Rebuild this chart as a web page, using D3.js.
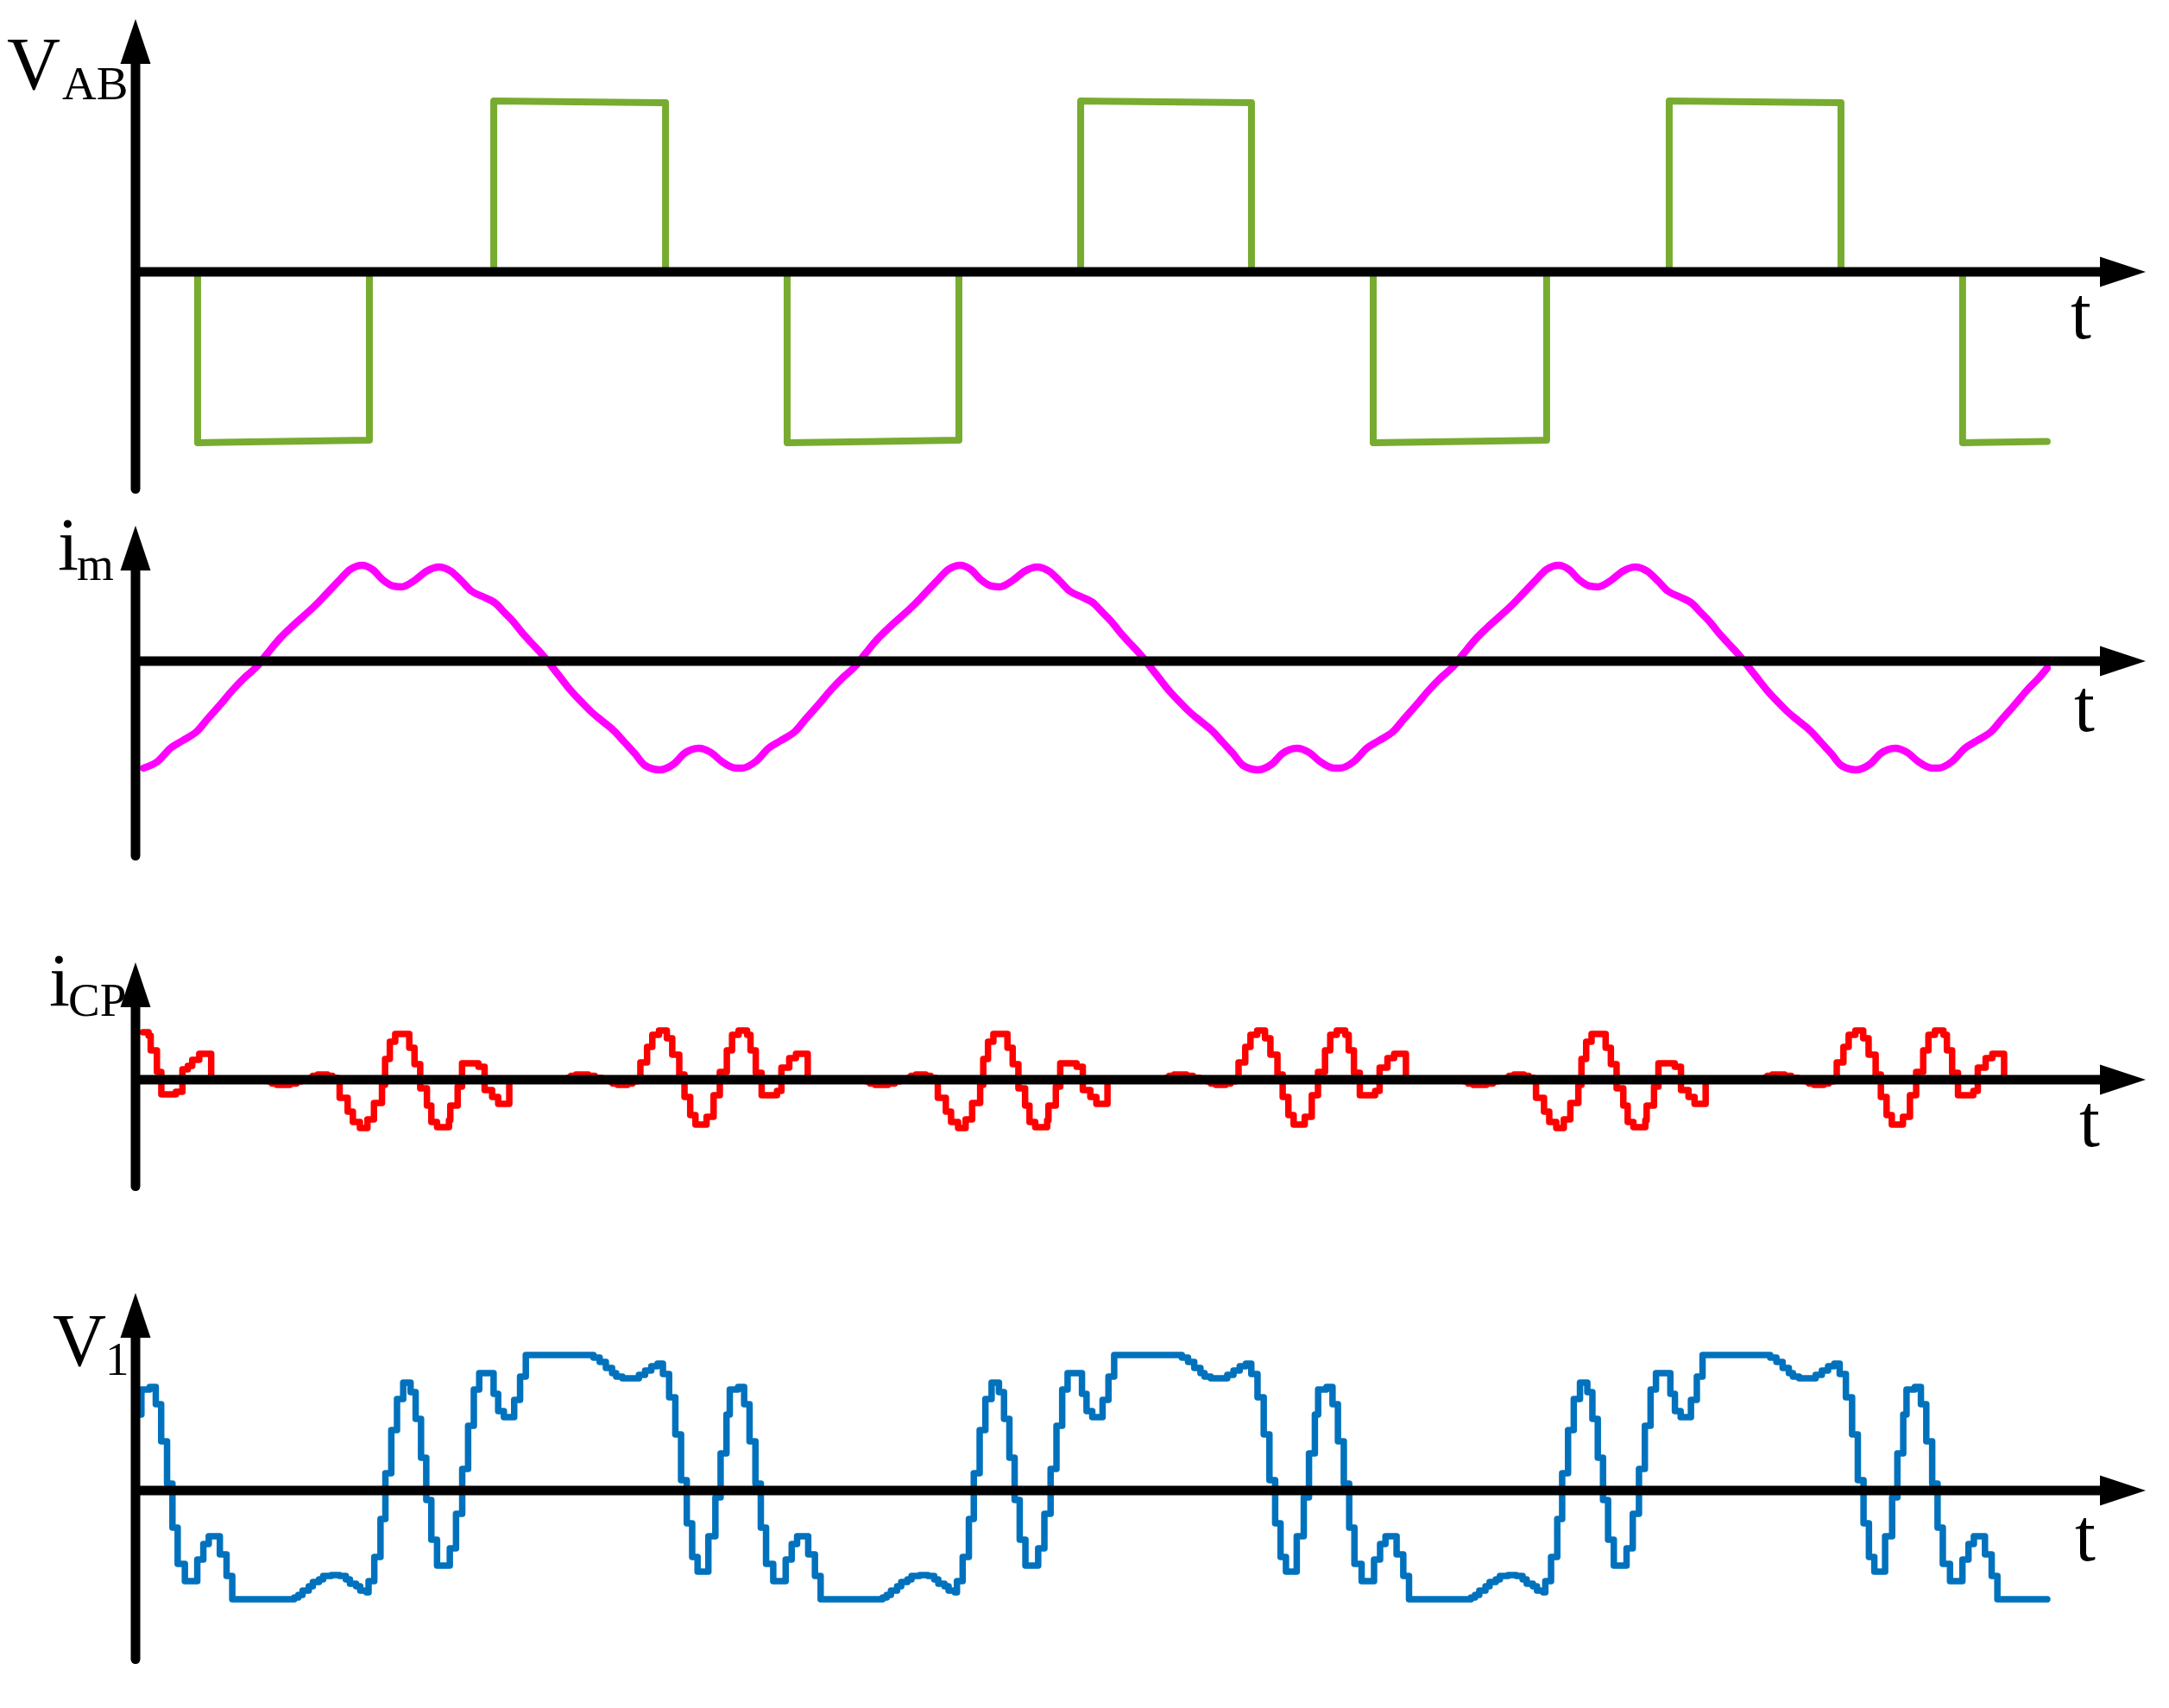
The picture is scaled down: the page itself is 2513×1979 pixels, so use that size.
<!DOCTYPE html>
<html><head><meta charset="utf-8">
<script src="https://cdn.jsdelivr.net/npm/d3@7"></script>
<style>html,body{margin:0;padding:0;background:#fff;} svg{display:block;}</style>
</head><body>
<svg id="chart" width="2513" height="1979"></svg>
<script>
// ---------- data (t in degrees of the V_AB period, values in arbitrary units) ----------
const vabData = [[0,0],[38.0,0],[38.0,-1.98],[143.1,-1.95],[143.1,0],[219.2,0],[219.2,1.98],[324.3,1.96],[324.3,0],
 [398.7,0],[398.7,-1.98],[503.8,-1.95],[503.8,0],[578.3,0],[578.3,1.98],[682.8,1.96],[682.8,0],
 [757.3,0],[757.3,-1.98],[863.4,-1.95],[863.4,0],[938.4,0],[938.4,1.98],[1043.5,1.96],[1043.5,0],
 [1117.9,0],[1117.9,-1.98],[1169.7,-1.965]];

const imData = [
 [4.9,-1.24],[13.7,-1.16],[21.3,-1.01],[28.9,-0.92],[37.8,-0.81],[44.1,-0.67],[51.6,-0.51],[59.2,-0.34],[66.8,-0.19],[74.4,-0.06],[80.7,0.09],[88.2,0.26],[94.6,0.38],[102.2,0.51],[109.7,0.64],[117.3,0.79],[124.9,0.94],[131.2,1.06],[138.8,1.11],[145.1,1.06],[151.4,0.94],[157.7,0.87],[162.8,0.86],[170.4,0.93],[177.9,1.04],[185.5,1.09],[193.1,1.04],[199.4,0.93],[205.7,0.81],[213.3,0.74],[219.6,0.68],[225.9,0.56],[231.0,0.46],[236.1,0.34],[242.3,0.21],[248.7,0.08],[255.0,-0.07],[260.0,-0.19],[266.3,-0.34],[272.7,-0.47],[279.0,-0.59],[285.3,-0.69],[292.9,-0.81],[299.2,-0.94],[305.5,-1.07],[311.8,-1.21],[320.6,-1.26],[329.5,-1.19],[335.8,-1.07],[344.6,-1.01],[352.2,-1.06],[358.5,-1.16],[367.4,-1.24],
 [370.9,-1.24],[379.7,-1.16],[387.3,-1.01],[394.9,-0.92],[403.8,-0.81],[410.1,-0.67],[417.6,-0.51],[425.2,-0.34],[432.8,-0.19],[440.4,-0.06],[446.7,0.09],[454.2,0.26],[460.6,0.38],[468.2,0.51],[475.7,0.64],[483.3,0.79],[490.9,0.94],[497.2,1.06],[504.8,1.11],[511.1,1.06],[517.4,0.94],[523.7,0.87],[528.8,0.86],[536.4,0.93],[543.9,1.04],[551.5,1.09],[559.1,1.04],[565.4,0.93],[571.7,0.81],[579.3,0.74],[585.6,0.68],[591.9,0.56],[597.0,0.46],[602.1,0.34],[608.3,0.21],[614.7,0.08],[621.0,-0.07],[626.0,-0.19],[632.3,-0.34],[638.7,-0.47],[645.0,-0.59],[651.3,-0.69],[658.9,-0.81],[665.2,-0.94],[671.5,-1.07],[677.8,-1.21],[686.6,-1.26],[695.5,-1.19],[701.8,-1.07],[710.6,-1.01],[718.2,-1.06],[724.5,-1.16],[733.4,-1.24],
 [736.9,-1.24],[745.7,-1.16],[753.3,-1.01],[760.9,-0.92],[769.8,-0.81],[776.1,-0.67],[783.6,-0.51],[791.2,-0.34],[798.8,-0.19],[806.4,-0.06],[812.7,0.09],[820.2,0.26],[826.6,0.38],[834.2,0.51],[841.7,0.64],[849.3,0.79],[856.9,0.94],[863.2,1.06],[870.8,1.11],[877.1,1.06],[883.4,0.94],[889.7,0.87],[894.8,0.86],[902.4,0.93],[909.9,1.04],[917.5,1.09],[925.1,1.04],[931.4,0.93],[937.7,0.81],[945.3,0.74],[951.6,0.68],[957.9,0.56],[963.0,0.46],[968.1,0.34],[974.3,0.21],[980.7,0.08],[987.0,-0.07],[992.0,-0.19],[998.3,-0.34],[1004.7,-0.47],[1011.0,-0.59],[1017.3,-0.69],[1024.9,-0.81],[1031.2,-0.94],[1037.5,-1.07],[1043.8,-1.21],[1052.6,-1.26],[1061.5,-1.19],[1067.8,-1.07],[1076.6,-1.01],[1084.2,-1.06],[1090.5,-1.16],[1099.4,-1.24],
 [1102.9,-1.24],[1111.7,-1.16],[1119.3,-1.01],[1126.9,-0.92],[1135.8,-0.81],[1142.1,-0.67],[1149.6,-0.51],[1157.2,-0.34],[1164.8,-0.19],[1169.7,-0.08]];

const icpData = [
 [4.5,0.55],[8.0,0.51],[9.3,0.34],[13.1,0.09],[15.8,-0.17],[24.7,-0.14],[28.7,0.12],[32.0,0.16],[34.7,0.23],[39.0,0.30],[46.3,0],
 [81.3,-0.02],[83.5,-0.045],[86.5,-0.06],[94.5,-0.045],[98.5,-0.02],[101.5,0],[106.9,0.02],[108.5,0.045],[111.5,0.06],[117.5,0.045],[120.5,0.02],[123.6,0],
 [124.9,-0.21],[129.8,-0.37],[133.0,-0.49],[137.3,-0.56],[141.9,-0.46],[145.9,-0.27],[150.8,-0.06],[152.7,0.24],[155.6,0.44],[158.9,0.53],[167.5,0.37],[170.7,0.18],[174.2,-0.10],[178.3,-0.30],[181.0,-0.49],[184.5,-0.55],[191.8,-0.47],[192.6,-0.30],[197.1,-0.08],[199.8,0.19],[209.8,0.15],[213.6,-0.12],[218.2,-0.20],[221.9,-0.28],[228.7,0],
 [264.5,0.02],[266.5,0.045],[269.5,0.06],[277.0,0.045],[281.0,0.02],[285.3,0],[290.1,-0.02],[292.0,-0.045],[295.0,-0.06],[301.0,-0.045],[304.0,-0.02],[306.8,0],
 [308.9,0.20],[313.0,0.38],[316.2,0.52],[320.3,0.57],[325.1,0.48],[328.4,0.29],[332.7,0.06],[335.9,-0.20],[339.4,-0.41],[342.6,-0.52],[349.4,-0.43],[353.7,-0.18],[357.5,0.09],[361.8,0.34],[365.0,0.52],[369.0,0.57],[374.2,0.52],[376.3,0.34],[379.5,0.08],[383.1,-0.18],[392.5,-0.13],[395.2,0.14],[400.0,0.25],[404.1,0.30],[411.3,0],
 [447.3,-0.02],[449.5,-0.045],[452.5,-0.06],[460.5,-0.045],[464.5,-0.02],[467.5,0],[472.9,0.02],[474.5,0.045],[477.5,0.06],[483.5,0.045],[486.5,0.02],[489.6,0],
 [490.9,-0.21],[495.8,-0.37],[499.0,-0.49],[503.3,-0.56],[507.9,-0.46],[511.9,-0.27],[516.8,-0.06],[518.7,0.24],[521.6,0.44],[524.9,0.53],[533.5,0.37],[536.7,0.18],[540.2,-0.10],[544.3,-0.30],[547.0,-0.49],[550.5,-0.55],[557.8,-0.47],[558.6,-0.30],[563.1,-0.08],[565.8,0.19],[575.8,0.15],[579.6,-0.12],[584.2,-0.20],[587.9,-0.28],[594.7,0],
 [630.5,0.02],[632.5,0.045],[635.5,0.06],[643.0,0.045],[647.0,0.02],[651.3,0],[656.1,-0.02],[658.0,-0.045],[661.0,-0.06],[667.0,-0.045],[670.0,-0.02],[672.8,0],
 [674.9,0.20],[679.0,0.38],[682.2,0.52],[686.3,0.57],[691.1,0.48],[694.4,0.29],[698.7,0.06],[701.9,-0.20],[705.4,-0.41],[708.6,-0.52],[715.4,-0.43],[719.7,-0.18],[723.5,0.09],[727.8,0.34],[731.0,0.52],[735.0,0.57],[740.2,0.52],[742.3,0.34],[745.5,0.08],[749.1,-0.18],[758.5,-0.13],[761.2,0.14],[766.0,0.25],[770.1,0.30],[777.3,0],
 [813.3,-0.02],[815.5,-0.045],[818.5,-0.06],[826.5,-0.045],[830.5,-0.02],[833.5,0],[838.9,0.02],[840.5,0.045],[843.5,0.06],[849.5,0.045],[852.5,0.02],[855.6,0],
 [856.9,-0.21],[861.8,-0.37],[865.0,-0.49],[869.3,-0.56],[873.9,-0.46],[877.9,-0.27],[882.8,-0.06],[884.7,0.24],[887.6,0.44],[890.9,0.53],[899.5,0.37],[902.7,0.18],[906.2,-0.10],[910.3,-0.30],[913.0,-0.49],[916.5,-0.55],[923.8,-0.47],[924.6,-0.30],[929.1,-0.08],[931.8,0.19],[941.8,0.15],[945.6,-0.12],[950.2,-0.20],[953.9,-0.28],[960.7,0],
 [996.5,0.02],[998.5,0.045],[1001.5,0.06],[1009.0,0.045],[1013.0,0.02],[1017.3,0],[1022.1,-0.02],[1024.0,-0.045],[1027.0,-0.06],[1033.0,-0.045],[1036.0,-0.02],[1038.8,0],
 [1040.9,0.20],[1045.0,0.38],[1048.2,0.52],[1052.3,0.57],[1057.1,0.48],[1060.4,0.29],[1064.7,0.06],[1067.9,-0.20],[1071.4,-0.41],[1074.6,-0.52],[1081.4,-0.43],[1085.7,-0.18],[1089.5,0.09],[1093.8,0.34],[1097.0,0.52],[1101.0,0.57],[1106.2,0.52],[1108.3,0.34],[1111.5,0.08],[1115.1,-0.18],[1124.5,-0.13],[1127.2,0.14],[1132.0,0.25],[1136.1,0.30],[1143.3,0],[1146.0,0]];

const v1Data = [
 [2.4,0.88],[3.6,1.17],[8.7,1.20],[12.4,1.00],[15.7,0.57],[19.3,0.08],[22.6,-0.43],[25.8,-0.85],[30.2,-1.05],[37.8,-0.80],[41.5,-0.62],[44.8,-0.53],[51.6,-0.74],[55.7,-0.99],[59.2,-1.26],[97.1,-1.24],[99.6,-1.21],[102.2,-1.16],[106.0,-1.11],[108.5,-1.06],[112.3,-1.03],[114.8,-0.99],[119.8,-0.98],[124.9,-0.99],[128.7,-1.03],[131.2,-1.08],[135.0,-1.11],[137.5,-1.16],[141.3,-1.18],[142.6,-1.05],[146.1,-0.77],[149.9,-0.33],[152.9,0.20],[156.5,0.70],[160.0,1.06],[163.8,1.25],[168.3,1.14],[171.4,0.83],[174.7,0.38],[177.9,-0.11],[181.0,-0.57],[184.5,-0.87],[192.3,-0.67],[196.1,-0.27],[199.9,0.25],[203.5,0.75],[207.0,1.17],[210.3,1.36],[219.1,1.12],[221.9,0.92],[225.4,0.85],[231.7,1.05],[235.3,1.32],[238.8,1.57],[280.2,1.54],[284.0,1.49],[287.8,1.42],[291.6,1.36],[294.1,1.32],[297.9,1.30],[308.0,1.34],[311.8,1.39],[315.6,1.44],[319.4,1.47],[322.7,1.35],[326.5,1.08],[330.3,0.65],[333.8,0.12],[337.3,-0.38],[340.6,-0.77],[343.9,-0.94],[350.5,-0.53],[354.8,-0.08],[358.0,0.43],[361.6,0.88],
 [363.6,1.17],[368.7,1.20],[372.4,1.00],[375.7,0.57],[379.3,0.08],[382.6,-0.43],[385.8,-0.85],[390.2,-1.05],[397.8,-0.80],[401.5,-0.62],[404.8,-0.53],[411.6,-0.74],[415.7,-0.99],[419.2,-1.26],[457.1,-1.24],[459.6,-1.21],[462.2,-1.16],[466.0,-1.11],[468.5,-1.06],[472.3,-1.03],[474.8,-0.99],[479.8,-0.98],[484.9,-0.99],[488.7,-1.03],[491.2,-1.08],[495.0,-1.11],[497.5,-1.16],[501.3,-1.18],[502.6,-1.05],[506.1,-0.77],[509.9,-0.33],[512.9,0.20],[516.5,0.70],[520.0,1.06],[523.8,1.25],[528.3,1.14],[531.4,0.83],[534.7,0.38],[537.9,-0.11],[541.0,-0.57],[544.5,-0.87],[552.3,-0.67],[556.1,-0.27],[559.9,0.25],[563.5,0.75],[567.0,1.17],[570.3,1.36],[579.1,1.12],[581.9,0.92],[585.4,0.85],[591.7,1.05],[595.3,1.32],[598.8,1.57],[640.2,1.54],[644.0,1.49],[647.8,1.42],[651.6,1.36],[654.1,1.32],[657.9,1.30],[668.0,1.34],[671.8,1.39],[675.6,1.44],[679.4,1.47],[682.7,1.35],[686.5,1.08],[690.3,0.65],[693.8,0.12],[697.3,-0.38],[700.6,-0.77],[703.9,-0.94],[710.5,-0.53],[714.8,-0.08],[718.0,0.43],[721.6,0.88],
 [723.6,1.17],[728.7,1.20],[732.4,1.00],[735.7,0.57],[739.3,0.08],[742.6,-0.43],[745.8,-0.85],[750.2,-1.05],[757.8,-0.80],[761.5,-0.62],[764.8,-0.53],[771.6,-0.74],[775.7,-0.99],[779.2,-1.26],[817.1,-1.24],[819.6,-1.21],[822.2,-1.16],[826.0,-1.11],[828.5,-1.06],[832.3,-1.03],[834.8,-0.99],[839.8,-0.98],[844.9,-0.99],[848.7,-1.03],[851.2,-1.08],[855.0,-1.11],[857.5,-1.16],[861.3,-1.18],[862.6,-1.05],[866.1,-0.77],[869.9,-0.33],[872.9,0.20],[876.5,0.70],[880.0,1.06],[883.8,1.25],[888.3,1.14],[891.4,0.83],[894.7,0.38],[897.9,-0.11],[901.0,-0.57],[904.5,-0.87],[912.3,-0.67],[916.1,-0.27],[919.9,0.25],[923.5,0.75],[927.0,1.17],[930.3,1.36],[939.1,1.12],[941.9,0.92],[945.4,0.85],[951.7,1.05],[955.3,1.32],[958.8,1.57],[1000.2,1.54],[1004.0,1.49],[1007.8,1.42],[1011.6,1.36],[1014.1,1.32],[1017.9,1.30],[1028.0,1.34],[1031.8,1.39],[1035.6,1.44],[1039.4,1.47],[1042.7,1.35],[1046.5,1.08],[1050.3,0.65],[1053.8,0.12],[1057.3,-0.38],[1060.6,-0.77],[1063.9,-0.94],[1070.5,-0.53],[1074.8,-0.08],[1078.0,0.43],[1081.6,0.88],
 [1083.6,1.17],[1088.7,1.20],[1092.4,1.00],[1095.7,0.57],[1099.3,0.08],[1102.6,-0.43],[1105.8,-0.85],[1110.2,-1.05],[1117.8,-0.80],[1121.5,-0.62],[1124.8,-0.53],[1131.6,-0.74],[1135.7,-0.99],[1139.2,-1.26],[1169.7,-1.26]];

const panelMain = ["V","i","i","V"];
const panelSub = ["AB","m","CP","1"];
const timeLabel = "t";

// ---------- layout ----------
const W = 2513, H = 1979;
const svg = d3.select("#chart");
svg.append("rect").attr("width", W).attr("height", H).attr("fill", "#fff");

const x = d3.scaleLinear().domain([0, 1170]).range([157, 2372.5]);
const x0 = 157, arrowTipX = 2486, arrowBaseX = 2433, arrowHalf = 17.5, arrowLen = 52, axisW = 11;
const font = "'Liberation Serif','Times New Roman',Times,serif";

const panels = [
  {axisY:315,  tipY:22,   bottom:572,  data:vabData, color:"#77AC30", width:8,   curve:d3.curveLinear,
   mainX:8,  mainY:103,  subX:72, subY:115,  tX:2399, tY:392},
  {axisY:766,  tipY:609,  bottom:997,  data:imData,  color:"#FF00FF", width:8.5, curve:d3.curveMonotoneX,
   mainX:67, mainY:660,  subX:89, subY:672,  tX:2403, tY:847},
  {axisY:1251, tipY:1115, bottom:1380, data:icpData, color:"#FF0000", width:7.5, curve:d3.curveStepAfter,
   mainX:57, mainY:1165, subX:79, subY:1177, tX:2409, tY:1328},
  {axisY:1727, tipY:1498, bottom:1928, data:v1Data,  color:"#0072BD", width:7.5, curve:d3.curveStepAfter,
   mainX:61, mainY:1582, subX:122, subY:1593, tX:2404, tY:1808}
];

panels.forEach((p, i) => {
  const y = d3.scaleLinear().domain([-1, 1]).range([p.axisY + 100, p.axisY - 100]);
  const g = svg.append("g");

  // labels (drawn first so the axis arrows sit on top)
  g.append("text").attr("x", p.mainX).attr("y", p.mainY)
    .attr("font-family", font).attr("font-size", 86).attr("fill", "#000").text(panelMain[i]);
  g.append("text").attr("x", p.subX).attr("y", p.subY)
    .attr("font-family", font).attr("font-size", 55).attr("fill", "#000").text(panelSub[i]);
  g.append("text").attr("x", p.tX).attr("y", p.tY)
    .attr("font-family", font).attr("font-size", 86).attr("fill", "#000").text(timeLabel);

  // waveform
  const line = d3.line().x(d => x(d[0])).y(d => y(d[1])).curve(p.curve);
  g.append("path").datum(p.data).attr("d", line)
    .attr("fill", "none").attr("stroke", p.color).attr("stroke-width", p.width)
    .attr("stroke-linejoin", "round").attr("stroke-linecap", "round");

  // axes on top
  g.append("line").attr("x1", x0).attr("x2", x0)
    .attr("y1", p.tipY + 45).attr("y2", p.bottom - axisW / 2)
    .attr("stroke", "#000").attr("stroke-width", axisW).attr("stroke-linecap", "round");
  g.append("polygon")
    .attr("points", [[x0, p.tipY], [x0 - arrowHalf, p.tipY + arrowLen], [x0 + arrowHalf, p.tipY + arrowLen]].join(" "))
    .attr("fill", "#000");
  g.append("line").attr("x1", x0).attr("x2", arrowBaseX + 5)
    .attr("y1", p.axisY).attr("y2", p.axisY)
    .attr("stroke", "#000").attr("stroke-width", axisW);
  g.append("polygon")
    .attr("points", [[arrowTipX, p.axisY], [arrowBaseX, p.axisY - arrowHalf], [arrowBaseX, p.axisY + arrowHalf]].join(" "))
    .attr("fill", "#000");
});
</script>
</body></html>
